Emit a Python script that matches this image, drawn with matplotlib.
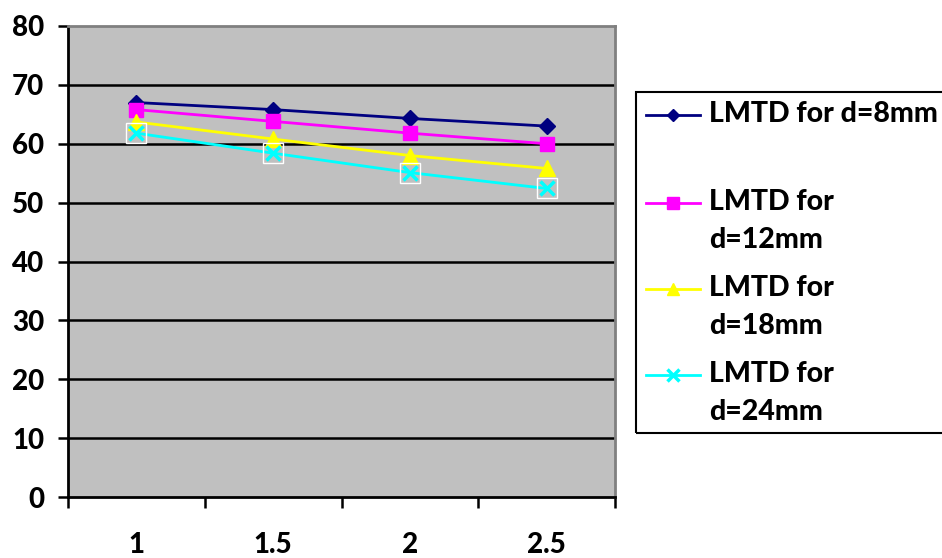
import matplotlib
matplotlib.use("Agg")
import matplotlib.pyplot as plt
from matplotlib.lines import Line2D
from matplotlib.patches import Rectangle

plt.rcParams['font.family'] = ['Lato', 'DejaVu Sans']
plt.rcParams['font.weight'] = 'bold'

categories = ["1", "1.5", "2", "2.5"]
lmtd_8 = [67.0, 65.8, 64.3, 63.0]
lmtd_12 = [65.8, 63.8, 61.8, 60.0]
lmtd_18 = [63.7, 60.8, 58.0, 55.8]
lmtd_24 = [61.8, 58.4, 55.1, 52.4]
labels = ["LMTD for d=8mm", "LMTD for\nd=12mm", "LMTD for\nd=18mm", "LMTD for\nd=24mm"]
y_ticks = [0, 10, 20, 30, 40, 50, 60, 70, 80]

fig = plt.figure(figsize=(9.42, 5.58), dpi=100)
ax = fig.add_axes([68 / 942, 61 / 558, 547 / 942, 471 / 558])
ax.set_facecolor('#c0c0c0')

x = list(range(len(categories)))
styles = [
    dict(color='#000080', marker='D', ms=8, mfc='#000080', mec='#000080'),
    dict(color='#ff00ff', marker='s', ms=10, mfc='#ff00ff', mec='#ff00ff'),
    dict(color='#ffff00', marker='^', ms=11, mfc='#ffff00', mec='#ffff00'),
    dict(color='#00ffff', marker='x', ms=10, mew=2.5, mfc='none', mec='#00ffff'),
]
series = [lmtd_8, lmtd_12, lmtd_18, lmtd_24]
for vals, st in zip(series, styles):
    ax.plot(x, vals, lw=2, zorder=3, **st)
# white square frame behind the x markers
ax.plot(x, lmtd_24, ls='none', marker='s', ms=14, mfc='none', mec='white', mew=1, zorder=3)

ax.set_xlim(-0.5, len(categories) - 0.5)
ax.set_ylim(0, 80)
ax.set_yticks(y_ticks)
ax.set_yticklabels([str(v) for v in y_ticks], fontsize=20, fontweight='black')
for v in y_ticks[1:-1]:
    ax.axhline(v, color='black', lw=1.8, zorder=1)

ax.set_xticks([i - 0.5 for i in range(len(categories) + 1)])
ax.set_xticklabels([])
ax.set_xticks(x, minor=True)
ax.set_xticklabels(categories, minor=True, fontsize=20, fontweight='black')
ax.tick_params(axis='x', which='major', direction='out', length=8, width=1.8)
ax.tick_params(axis='x', which='minor', length=0, pad=25)
ax.tick_params(axis='y', direction='out', length=7, width=1.8, pad=10)

for s in ['left', 'bottom']:
    ax.spines[s].set_color('black')
    ax.spines[s].set_linewidth(2)
for s in ['top', 'right']:
    ax.spines[s].set_color('#808080')
    ax.spines[s].set_linewidth(2)

# legend box drawn by hand (Excel-style layout)
W, H = 942.0, 558.0
fig.add_artist(Rectangle((636 / W, 1 - 433 / H), 310 / W, 341 / H, transform=fig.transFigure,
                         fill=False, edgecolor='black', lw=1.5))
entry_y = [115, 203, 289, 375]
for yy, lab, st in zip(entry_y, labels, styles):
    yf = 1 - yy / H
    fig.add_artist(Line2D([646 / W, 700 / W], [yf, yf], transform=fig.transFigure,
                          lw=2, color=st['color']))
    mk = dict(st)
    mk.pop('color')
    mk['ms'] = mk['ms'] * 0.8
    fig.add_artist(Line2D([673 / W], [yf], transform=fig.transFigure, ls='none', **mk))
    fig.text(709 / W, yf + 14 / H, lab, fontsize=20.5, fontweight='black', va='top',
             ha='left', linespacing=1.55, transform=fig.transFigure)

fig.savefig("out.png", dpi=100)
